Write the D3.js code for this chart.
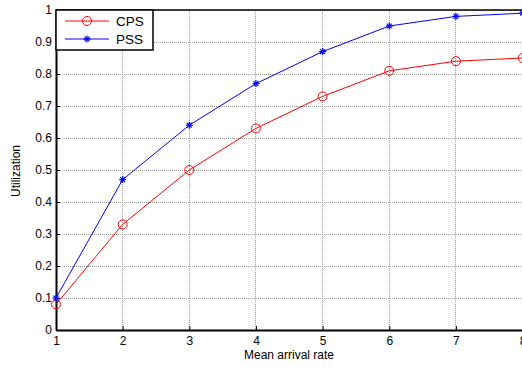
<!DOCTYPE html>
<html><head><meta charset="utf-8">
<script src="https://cdn.jsdelivr.net/npm/d3@7"></script>
<style>body{margin:0;background:#fff;overflow:hidden}svg{display:block}</style>
</head><body>
<script>
const xValues = [1, 2, 3, 4, 5, 6, 7, 8];
const cps = [0.08, 0.33, 0.50, 0.63, 0.73, 0.81, 0.84, 0.85];
const pss = [0.10, 0.47, 0.64, 0.77, 0.87, 0.95, 0.98, 0.99];
const yTicks = [0, 0.1, 0.2, 0.3, 0.4, 0.5, 0.6, 0.7, 0.8, 0.9, 1];
const seriesNames = ["CPS", "PSS"];

const W = 522, H = 367;
const L = 56, T = 10, B = 330, R = 522.6;
const svg = d3.select("body").append("svg").attr("width", W).attr("height", H);
const x = d3.scaleLinear().domain([1, 8]).range([L, R]);
const y = d3.scaleLinear().domain([0, 1]).range([B, T]);
const font = "'Liberation Sans', Arial, sans-serif";

// grid
const g = svg.append("g");
g.selectAll(".vx").data(xValues.slice(1)).join("line")
  .attr("x1", d => x(d)).attr("x2", d => x(d)).attr("y1", T).attr("y2", B)
  .attr("stroke", "#999").attr("stroke-width", 1).attr("stroke-dasharray", "1,1").attr("shape-rendering","crispEdges");
g.selectAll(".hy").data(yTicks.slice(1)).join("line")
  .attr("x1", L).attr("x2", R).attr("y1", d => y(d)).attr("y2", d => y(d))
  .attr("stroke", "#999").attr("stroke-width", 1).attr("stroke-dasharray", "1,1").attr("shape-rendering","crispEdges");

// axes
const xAxis = d3.axisBottom(x).tickValues(xValues).tickFormat(d3.format("d")).tickSizeInner(-4).tickSizeOuter(0).tickPadding(6);
const yAxis = d3.axisLeft(y).tickValues(yTicks).tickFormat(d => d === 0 ? "0" : d === 1 ? "1" : d3.format(".1f")(d)).tickSizeInner(-4).tickSizeOuter(0).tickPadding(4);
const gx = svg.append("g").attr("transform", `translate(0,${B})`).call(xAxis);
const gy = svg.append("g").attr("transform", `translate(${L},0)`).call(yAxis);
[gx, gy].forEach(a => {
  a.select(".domain").attr("stroke", "#000").attr("stroke-width", 2);
  a.selectAll(".tick line").attr("stroke", "#000");
  a.selectAll("text").attr("font-family", font).attr("font-size", 12).attr("fill", "#000");
});
// top border
svg.append("line").attr("x1", L).attr("x2", R).attr("y1", T).attr("y2", T).attr("stroke", "#000").attr("stroke-width", 1.5);

// lines
const line = d3.line().x((d, i) => x(xValues[i])).y(d => y(d));
svg.append("path").datum(cps).attr("d", line).attr("fill", "none").attr("stroke", "#ff0000").attr("stroke-width", 1);
svg.append("path").datum(pss).attr("d", line).attr("fill", "none").attr("stroke", "#0000ff").attr("stroke-width", 1);

// markers
svg.selectAll(".cm").data(cps).join("circle")
  .attr("cx", (d, i) => x(xValues[i])).attr("cy", d => y(d)).attr("r", 4.5)
  .attr("fill", "none").attr("stroke", "#ff0000").attr("stroke-width", 1);
const star = (sel, cx, cy, s, col) => {
  const p = sel.append("g").attr("stroke", col).attr("stroke-width", 1.2);
  p.append("line").attr("x1", cx - s).attr("x2", cx + s).attr("y1", cy).attr("y2", cy);
  p.append("line").attr("x1", cx).attr("x2", cx).attr("y1", cy - s).attr("y2", cy + s);
  p.append("line").attr("x1", cx - s*0.7).attr("x2", cx + s*0.7).attr("y1", cy - s*0.7).attr("y2", cy + s*0.7);
  p.append("line").attr("x1", cx - s*0.7).attr("x2", cx + s*0.7).attr("y1", cy + s*0.7).attr("y2", cy - s*0.7);
};
pss.forEach((d, i) => star(svg, x(xValues[i]), y(d), 3.5, "#0000ff"));

// axis labels
svg.append("text").attr("x", 289).attr("y", 359).attr("text-anchor", "middle")
  .attr("font-family", font).attr("font-size", 12).text("Mean arrival rate");
svg.append("text").attr("transform", "translate(20,171) rotate(-90)").attr("text-anchor", "middle")
  .attr("font-family", font).attr("font-size", 12).text("Utilization");

// legend
const lg = svg.append("g");
lg.append("rect").attr("x", L).attr("y", T).attr("width", 97).attr("height", 40)
  .attr("fill", "#fff").attr("stroke", "#000").attr("stroke-width", 1.5);
const ly = [21, 39];
const cols = ["#ff0000", "#0000ff"];
ly.forEach((yy, i) => {
  lg.append("line").attr("x1", 65).attr("x2", 109).attr("y1", yy).attr("y2", yy).attr("stroke", cols[i]).attr("stroke-width", 1);
  lg.append("text").attr("x", 116).attr("y", yy + 5).attr("font-family", font).attr("font-size", 13.5).text(seriesNames[i]);
});
lg.append("circle").attr("cx", 87).attr("cy", ly[0]).attr("r", 4.5).attr("fill", "none").attr("stroke", "#ff0000");
star(lg, 87, ly[1], 3.5, "#0000ff");
</script>
</body></html>
